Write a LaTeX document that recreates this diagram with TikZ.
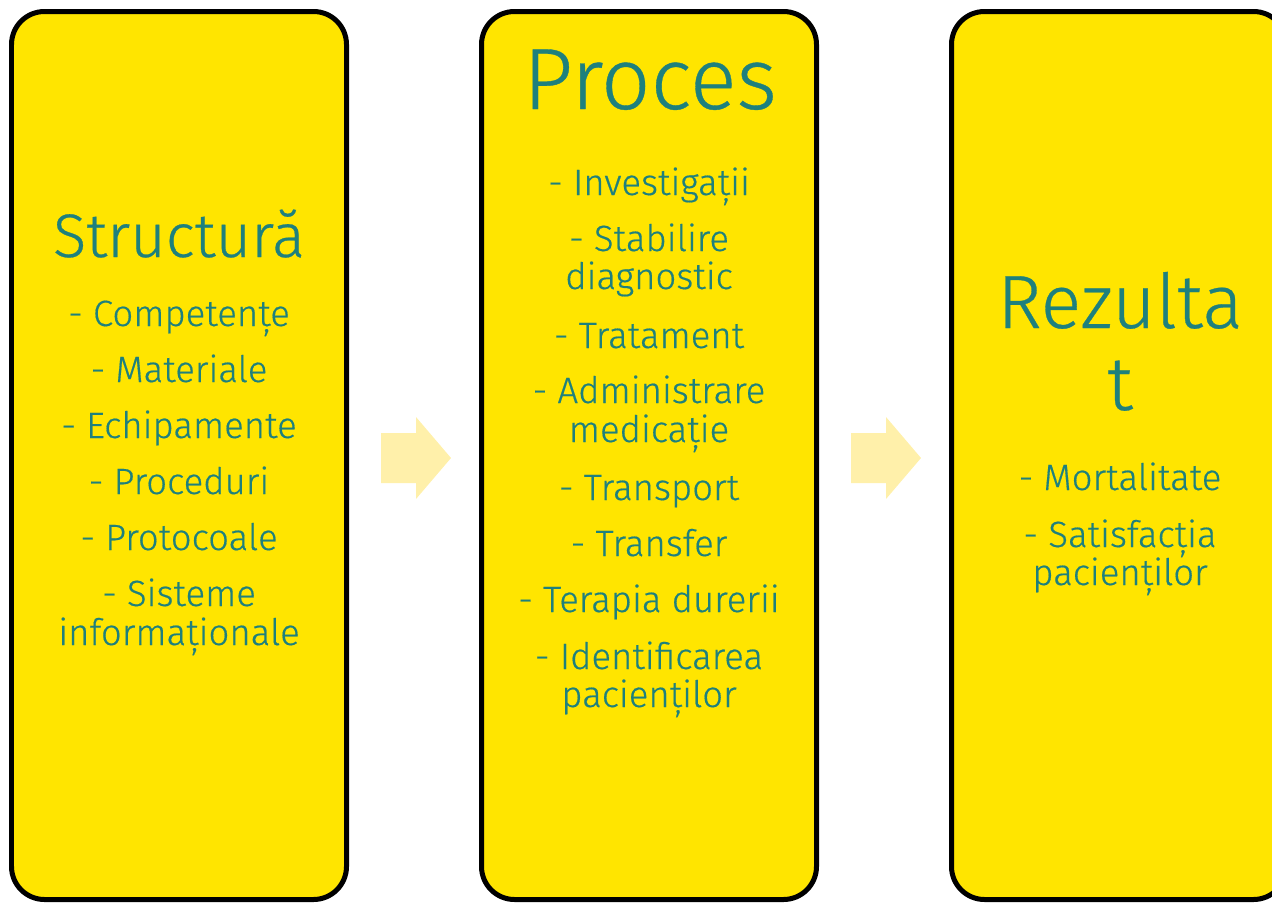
\documentclass[tikz,border=0pt]{standalone}
\usepackage{fontspec}
\setmainfont{Fira Sans Light}[FakeBold=0.4]
\definecolor{panelyellow}{RGB}{255,229,0}
\definecolor{tealtext}{RGB}{30,128,125}
\definecolor{arrowfill}{RGB}{255,240,170}
\begin{document}
\begin{tikzpicture}[x=0.02cm,y=-0.02cm,
  panel/.style={draw=black, line width=0.1cm, fill=panelyellow, rounded corners=0.66cm},
  flowarrow/.style={fill=arrowfill, draw=none},
  heading/.style={text=tealtext, anchor=base, inner sep=0pt, font=\fontsize{#1}{#1}\selectfont},
  entry/.style={text=tealtext, anchor=base, inner sep=0pt, font=\fontsize{20.8}{22}\selectfont}]
\useasboundingbox (0,0) rectangle (1272,903);

% three panels
\draw[panel] (11.5,11.5) rectangle (346.5,899.5);
\draw[panel] (481.5,11.5) rectangle (816.5,899.5);
\draw[panel] (951.5,11.5) rectangle (1286.5,899.5);

% block arrows between the panels
\fill[flowarrow] (381,433) -- (416,433) -- (416,417) -- (451,458) -- (416,499) -- (416,483) -- (381,483) -- cycle;
\fill[flowarrow] (851,433) -- (886,433) -- (886,417) -- (921,458) -- (886,499) -- (886,483) -- (851,483) -- cycle;

% first panel
\node[heading=35] (t1) at (179,257) {Structură};
\node[entry] (a1) at (179,326) {- Competențe};
\node[entry] (a2) at (179,382) {- Materiale};
\node[entry] (a3) at (179,438) {- Echipamente};
\node[entry] (a4) at (179,494) {- Proceduri};
\node[entry] (a5) at (179,550) {- Protocoale};
\node[entry] (a6) at (179,606) {- Sisteme};
\node[entry] (a6b) at (179,645) {informaționale};

% second panel
\node[heading=49.5] (t2) at (650,109) {Proces};
\node[entry] (b1) at (649,195) {- Investigații};
\node[entry] (b2) at (649,251) {- Stabilire};
\node[entry] (b2b) at (649,289) {diagnostic};
\node[entry] (b3) at (649,348) {- Tratament};
\node[entry] (b4) at (649,403) {- Administrare};
\node[entry] (b4b) at (649,442) {medicație};
\node[entry] (b5) at (649,500) {- Transport};
\node[entry] (b6) at (649,556) {- Transfer};
\node[entry] (b7) at (649,612) {- Terapia durerii};
\node[entry] (b8) at (649,669) {- Identificarea};
\node[entry] (b8b) at (649,707) {pacienților};

% third panel
\node[heading=43] (t3) at (1120,328) {Rezulta};
\node[heading=43] (t3b) at (1120,410) {t};
\node[entry] (c1) at (1120,490) {- Mortalitate};
\node[entry] (c2) at (1120,547) {- Satisfacția};
\node[entry] (c2b) at (1120,585) {pacienților};
\end{tikzpicture}
\end{document}
